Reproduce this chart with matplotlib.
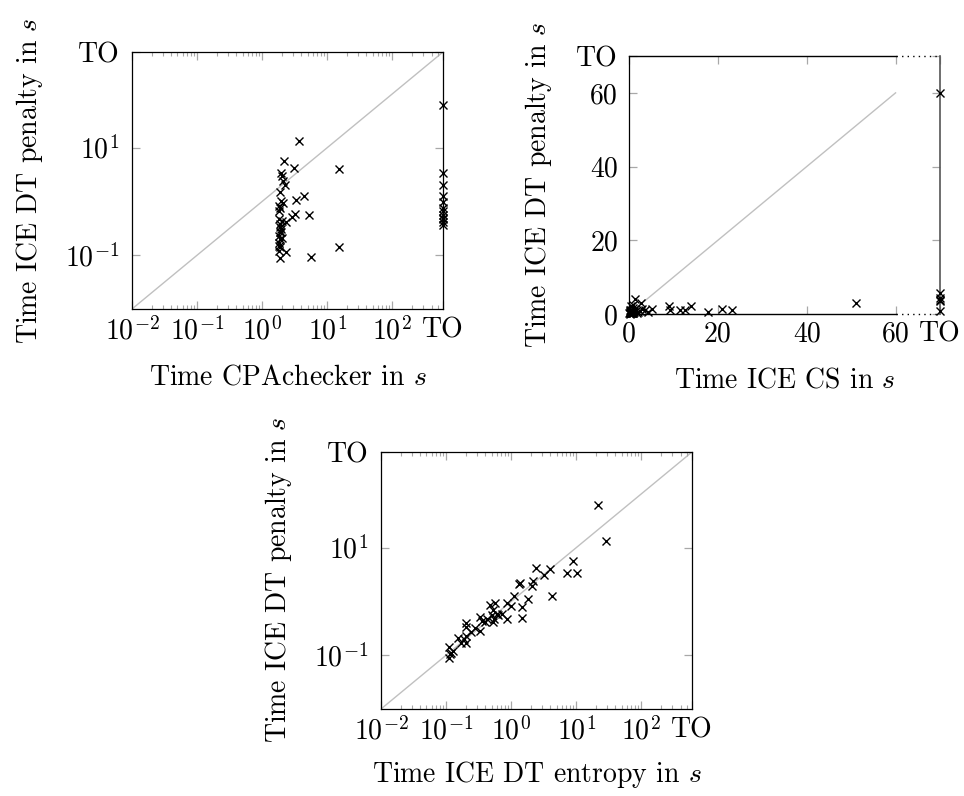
import numpy as np
import matplotlib
matplotlib.use("Agg")
import matplotlib.pyplot as plt
from matplotlib.ticker import FixedLocator, LogLocator, NullLocator

plt.rcParams['font.family'] = ['cmr10', 'DejaVu Serif']
plt.rcParams['mathtext.fontset'] = 'cm'
plt.rcParams['axes.unicode_minus'] = False
plt.rcParams['axes.formatter.use_mathtext'] = True

# ---------------- data ----------------
TO_LOG = 600.0
TO_LIN = 70.0

# Plot 1: CPAchecker vs ICE DT penalty (seconds, 'TO' = timeout)
cpa_x = [3.7, 2.13, 3.03, 14.9, 1.94, 2.0, 2.1, 2.25, 1.94, 2.1, 3.3, 4.4, 1.8,
         1.8, 3.2, 5.3, 2.9, 2.05, 1.85, 2.3, 1.94, 1.8, 1.85, 1.8, 1.9, 1.8,
         2.3, 1.9, 5.6, 14.9, 1.94, 2.0, 1.85, 1.9, 1.8, 1.9, 1.8, 1.85,
         'TO', 'TO', 'TO', 'TO', 'TO', 'TO', 'TO', 'TO', 'TO', 'TO', 'TO', 'TO']
cpa_y = [13.3, 5.7, 4.1, 4.0, 3.4, 3.0, 2.4, 2.0, 1.03, 0.93, 1.06, 1.27, 0.83,
         0.67, 0.58, 0.56, 0.51, 0.44, 0.38, 0.41, 0.31, 0.23, 0.2, 0.17, 0.14,
         0.12, 0.115, 0.09, 0.091, 0.14, 0.27, 0.21, 0.77, 0.27, 0.15, 1.47,
         0.47, 0.33,
         62, 3.4, 2.0, 1.24, 0.98, 0.77, 0.67, 0.55, 0.5, 0.47, 0.41, 0.37]

# Plot 2: ICE CS vs ICE DT penalty
cs_x = [0.2, 0.3, 0.5, 0.4, 0.6, 0.8, 1.0, 0.3, 0.1, 0.2, 0.5, 0.7, 1.2, 1.5,
        0.9, 0.4, 0.6, 1.1, 2.0, 2.5, 3.0, 1.8, 0.3, 0.8, 1.35, 2.6, 5.1, 9.1,
        9.3, 11.5, 12.6, 13.9, 17.7, 20.9, 23.2, 51.0, 3.5, 4.2, 0.5, 1.0,
        'TO', 'TO', 'TO', 'TO', 'TO', 'TO']
cs_y = [0.1, 0.3, 0.2, 0.5, 0.4, 0.6, 0.3, 0.8, 0.2, 1.0, 1.2, 0.9, 0.5, 0.7,
        1.5, 0.15, 0.25, 1.1, 0.6, 0.9, 1.3, 0.4, 0.5, 0.2, 4.0, 2.9, 1.3, 2.2,
        1.0, 1.0, 1.2, 2.2, 0.6, 1.3, 1.2, 3.0, 1.0, 0.5, 2.2, 2.4,
        60, 5.7, 4.3, 3.9, 3.4, 0.7]

# Plot 3: ICE DT entropy vs ICE DT penalty
ent_x = [21.8, 28.6, 9.0, 7.3, 10.4, 2.43, 4.0, 3.2, 2.2, 1.33, 1.36, 2.1, 4.3,
         1.83, 1.1, 0.85, 0.99, 1.49, 1.49, 0.48, 0.56, 0.53, 0.6, 0.63, 0.5,
         0.54, 0.73, 0.85, 0.42, 0.33, 0.35, 0.39, 0.53, 0.28, 0.33, 0.245,
         0.2, 0.2, 0.2, 0.19, 0.15, 0.17, 0.2, 0.11, 0.128, 0.113, 0.11, 0.12]
ent_y = [62, 13.3, 5.7, 3.4, 3.4, 4.1, 4.0, 3.1, 2.4, 2.15, 2.2, 1.95, 1.27,
         1.1, 1.27, 0.94, 0.83, 0.8, 0.5, 0.87, 0.94, 0.7, 0.58, 0.56, 0.55,
         0.47, 0.58, 0.47, 0.47, 0.51, 0.44, 0.42, 0.41, 0.32, 0.28, 0.27,
         0.4, 0.33, 0.23, 0.2, 0.21, 0.17, 0.17, 0.14, 0.12, 0.105, 0.09, 0.11]

log_ticks = [0.01, 0.1, 1, 10, 100]
log_tick_labels = [r'$10^{-2}$', r'$10^{-1}$', r'$10^{0}$', r'$10^{1}$', r'$10^{2}$']
log_yticks = [0.1, 10]
log_ytick_labels = [r'$10^{-1}$', r'$10^{1}$']
lin_ticks = [0, 20, 40, 60]

FS = 20
TICK_GRAY = '#a8a8a8'


def to_num(vals, to):
    return np.array([to if v == 'TO' else v for v in vals], dtype=float)


fig = plt.figure(figsize=(9.64, 7.96), dpi=100)
W, H = 964.0, 796.0


def add_ax(left, right, top, bottom):
    return fig.add_axes([left / W, (H - bottom) / H, (right - left) / W, (bottom - top) / H])


def style_common(ax):
    for s in ax.spines.values():
        s.set_linewidth(0.9)
        s.set_color('black')
    ax.tick_params(which='both', direction='in', top=True, right=True,
                   color=TICK_GRAY, labelsize=FS)
    ax.tick_params(which='major', length=6, width=0.9)
    ax.tick_params(which='minor', length=3, width=0.8)


def log_panel(ax, xs, ys):
    x = to_num(xs, TO_LOG)
    y = to_num(ys, TO_LOG)
    ax.set_xscale('log')
    ax.set_yscale('log')
    ax.set_xlim(0.01, TO_LOG)
    ax.set_ylim(0.01, TO_LOG)
    ax.plot([0.01, TO_LOG], [0.01, TO_LOG], color='#c0c0c0', lw=1.0, zorder=1)
    ax.plot(x, y, linestyle='none', marker='x', color='black', ms=6, mew=1.0,
            zorder=3, clip_on=False)
    style_common(ax)
    ax.xaxis.set_major_locator(FixedLocator(log_ticks + [TO_LOG]))
    ax.set_xticklabels(log_tick_labels + ['TO'])
    ax.xaxis.set_minor_locator(LogLocator(base=10, subs=np.arange(2, 10), numticks=100))
    ax.yaxis.set_major_locator(FixedLocator(log_yticks + [TO_LOG]))
    ax.set_yticklabels(log_ytick_labels + ['TO'])
    ax.yaxis.set_minor_locator(NullLocator())
    ax.tick_params(axis='x', which='both', pad=6)
    ax.tick_params(axis='y', which='both', pad=9)
    ax.tick_params(axis='x', which='minor', labelbottom=False)


# Panel 1
ax1 = add_ax(132, 443, 52, 309)
log_panel(ax1, cpa_x, cpa_y)

# Panel 3
ax3 = add_ax(381, 692, 452, 709)
log_panel(ax3, ent_x, ent_y)

# Panel 2 (linear)
ax2 = add_ax(629, 940, 56, 314)
x2 = to_num(cs_x, TO_LIN)
y2 = to_num(cs_y, TO_LIN)
ax2.set_xlim(0, TO_LIN)
ax2.set_ylim(0, TO_LIN)
ax2.plot([0, 60], [0, 60], color='#c0c0c0', lw=1.0, zorder=1)
ax2.plot(x2, y2, linestyle='none', marker='x', color='black', ms=6, mew=1.0,
         zorder=3, clip_on=False)
style_common(ax2)
ax2.spines['top'].set_visible(False)
ax2.spines['bottom'].set_visible(False)
ax2.spines['right'].set_color('#555555')
ax2.spines['right'].set_linewidth(1.2)
for yy in (0, TO_LIN):
    ax2.plot([0, 60], [yy, yy], color='black', lw=1.0, clip_on=False, zorder=2)
    ax2.plot([60, TO_LIN], [yy, yy], color='black', lw=1.0, ls=(0, (1, 3)),
             clip_on=False, zorder=2)
ax2.xaxis.set_major_locator(FixedLocator(lin_ticks + [TO_LIN]))
ax2.set_xticklabels([str(t) for t in lin_ticks] + ['TO'])
ax2.yaxis.set_major_locator(FixedLocator(lin_ticks + [TO_LIN]))
ax2.set_yticklabels([str(t) for t in lin_ticks] + ['TO'])
ax2.tick_params(axis='x', pad=5)
ax2.tick_params(axis='y', pad=8)

# Labels
ylab = r'Time ICE DT penalty in $s$'
fig.text(30 / W, 1 - 181 / H, ylab, rotation=90, ha='center', va='center', fontsize=FS)
fig.text(538 / W, 1 - 185 / H, ylab, rotation=90, ha='center', va='center', fontsize=FS)
fig.text(278 / W, 1 - 580 / H, ylab, rotation=90, ha='center', va='center', fontsize=FS)
fig.text(288 / W, 1 - 377 / H, r'Time CPAchecker in $s$', ha='center', va='center', fontsize=FS)
fig.text(785 / W, 1 - 380 / H, r'Time ICE CS in $s$', ha='center', va='center', fontsize=FS)
fig.text(537 / W, 1 - 775 / H, r'Time ICE DT entropy in $s$', ha='center', va='center', fontsize=FS)

fig.savefig('out.png', dpi=100)
